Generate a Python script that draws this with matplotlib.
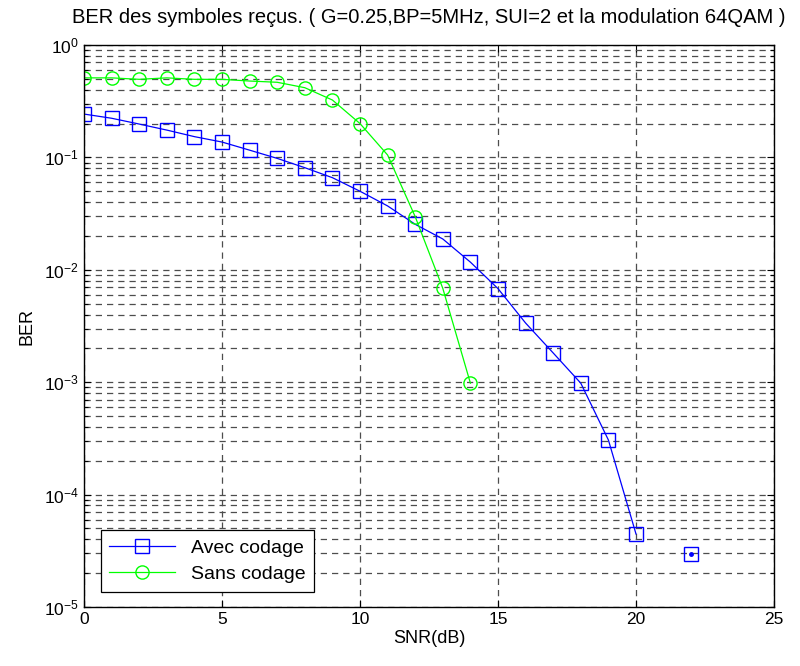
import numpy as np
import matplotlib
matplotlib.use('Agg')
import matplotlib.pyplot as plt
from matplotlib.ticker import LogLocator, NullFormatter

plt.rcParams['font.family'] = ['Liberation Sans', 'DejaVu Sans']
plt.rcParams['mathtext.fontset'] = 'custom'
plt.rcParams['mathtext.rm'] = 'Liberation Sans'
plt.rcParams['mathtext.it'] = 'Liberation Sans'

# SNR (dB)
snr_avec = [0, 1, 2, 3, 4, 5, 6, 7, 8, 9, 10, 11, 12, 13, 14, 15, 16, 17, 18, 19, 20, 21, 22]
ber_avec = [0.243, 0.223, 0.198, 0.175, 0.153, 0.137, 0.116, 0.098, 0.081, 0.066,
            0.050, 0.037, 0.0254, 0.0188, 0.0117, 0.0068, 0.00336, 0.00182, 0.00098,
            0.000306, 4.46e-5, np.nan, 2.96e-5]

snr_sans = [0, 1, 2, 3, 4, 5, 6, 7, 8, 9, 10, 11, 12, 13, 14]
ber_sans = [0.51, 0.51, 0.495, 0.51, 0.495, 0.495, 0.478, 0.466, 0.417, 0.324,
            0.20, 0.105, 0.0297, 0.00684, 0.00098]

# isolated point drawn with a dot marker
dot_x = [22]
dot_y = [2.96e-5]

fig = plt.figure(figsize=(8, 6.66), dpi=100)
ax = fig.add_axes([84/800, 1 - 607/666, 690/800, 562/666])

ax.semilogy(snr_avec, ber_avec, color='#0000ff', lw=0.9, marker='s', ms=9.5,
            mfc='none', mec='#0000ff', mew=1.0, label='Avec codage')
ax.semilogy(snr_sans, ber_sans, color='#00ff00', lw=0.9, marker='o', ms=9.5,
            mfc='none', mec='#00ff00', mew=1.0, label='Sans codage')
ax.semilogy(dot_x, dot_y, ls='none', marker='.', ms=5, color='#0000ff')

ax.set_xlim(0, 25)
ax.set_ylim(1e-5, 1)
ax.set_xticks([0, 5, 10, 15, 20, 25])
ax.yaxis.set_major_locator(LogLocator(base=10, numticks=10))
ax.yaxis.set_minor_locator(LogLocator(base=10, subs=np.arange(2, 10), numticks=20))
ax.yaxis.set_minor_formatter(NullFormatter())

gs = dict(color='0.3', linestyle=(0, (5, 4)), linewidth=0.9)
ax.grid(True, which='major', **gs)
ax.grid(True, which='minor', axis='y', **gs)

ax.tick_params(which='both', direction='in', top=True, right=True, labelsize=12.5,
               length=5, width=0.8)
ax.tick_params(which='minor', length=3)
for s in ax.spines.values():
    s.set_linewidth(1.0)

ax.set_xlabel('SNR(dB)', fontsize=13, labelpad=2)
ax.set_ylabel('BER', fontsize=13, labelpad=6)
ax.set_title('BER des symboles reçus. ( G=0.25,BP=5MHz, SUI=2 et la modulation 64QAM )',
             fontsize=14.5, pad=16)

leg = ax.legend(loc='lower left', fontsize=14, fancybox=False, framealpha=1,
                edgecolor='black', handlelength=3.4, borderpad=0.45,
                labelspacing=0.45, bbox_to_anchor=(0.01, 0.01))
leg.get_frame().set_linewidth(0.9)

fig.savefig('out.png', dpi=100)
